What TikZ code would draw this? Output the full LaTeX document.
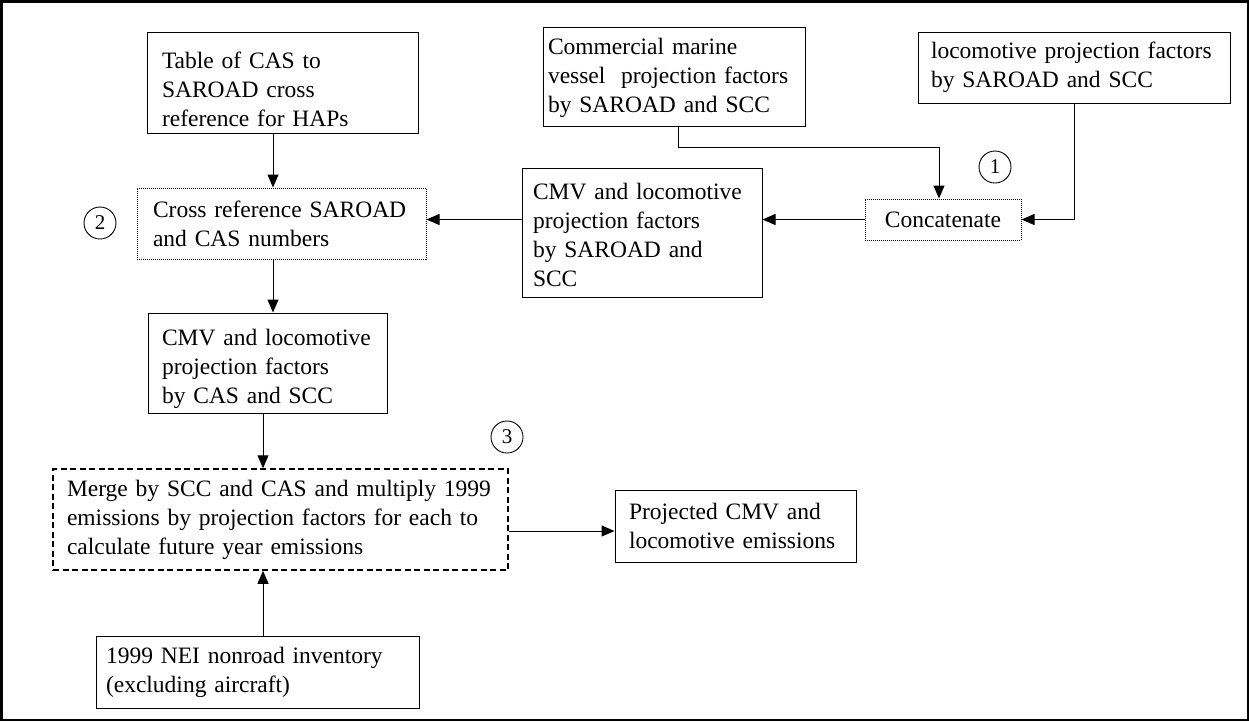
\documentclass[tikz,border=0pt]{standalone}
\usepackage{fontspec}
\setmainfont{Liberation Serif}
\usetikzlibrary{arrows.meta}
\begin{document}
\begin{tikzpicture}[x=1pt,y=-1pt,
  txt/.style={font=\fontsize{23.5}{29}\selectfont},
  box/.style={draw, line width=1pt, txt, align=left, inner ysep=0pt},
  lower/.style={execute at begin node={\rule{0pt}{#1}}},
  dotbox/.style={box, dash pattern=on 1pt off 1pt},
  dashbox/.style={box, line width=1.5pt, dash pattern=on 6pt off 3.5pt},
  num/.style={draw, circle, line width=0.9pt, minimum size=32pt, inner sep=0pt, font=\fontsize{21}{21}\selectfont},
  arr/.style={line width=1pt, -{Triangle[length=13pt,width=11pt]}},
  link/.style={line width=1pt}]
\useasboundingbox (0,0) rectangle (1249,721);
\draw[line width=2.5pt] (1.25,1.25) rectangle (1247.75,719.75);

\node[box, lower=30pt, minimum width=271pt, minimum height=101pt, inner xsep=15pt, text width=241pt] (A) at (282.5,82.5)
  {\mbox{Table of CAS to}\\\mbox{SAROAD cross}\\\mbox{reference for HAPs}};
\node[box, lower=20pt, minimum width=262pt, minimum height=99pt, inner xsep=5pt, text width=252pt] (B) at (674,76.5)
  {\mbox{Commercial marine}\\\mbox{vessel\ \ projection factors}\\\mbox{by SAROAD and SCC}};
\node[box, minimum width=312pt, minimum height=71pt, inner xsep=13pt, text width=286pt] (C) at (1074,67.5)
  {\mbox{locomotive projection factors}\\\mbox{by SAROAD and SCC}};
\node[dotbox, minimum width=289pt, minimum height=71pt, inner xsep=16pt, text width=257pt] (D) at (281.5,223.5)
  {\mbox{Cross reference SAROAD}\\\mbox{and CAS numbers}};
\node[box, lower=22pt, minimum width=240pt, minimum height=129pt, inner xsep=11pt, text width=218pt] (E) at (642,232.5)
  {\mbox{CMV and locomotive}\\\mbox{projection factors}\\\mbox{by SAROAD and}\\\mbox{SCC}};
\node[dotbox, align=center, minimum width=156pt, minimum height=41pt, inner xsep=0pt] (F) at (943,219.5)
  {Concatenate};
\node[box, lower=28pt, minimum width=239pt, minimum height=100pt, inner xsep=14pt, text width=211pt] (G) at (267.5,363)
  {\mbox{CMV and locomotive}\\\mbox{projection factors}\\\mbox{by CAS and SCC}};
\node[dashbox, minimum width=455pt, minimum height=101pt, inner xsep=14pt, text width=427pt] (H) at (280.5,519.5)
  {\mbox{Merge by SCC and CAS and multiply 1999}\\\mbox{emissions by projection factors for each to}\\\mbox{calculate future year emissions}};
\node[box, minimum width=241pt, minimum height=72pt, inner xsep=14pt, text width=213pt] (I) at (735.5,526)
  {\mbox{Projected CMV and}\\\mbox{locomotive emissions}};
\node[box, minimum width=323pt, minimum height=72pt, inner xsep=10pt, text width=303pt] (J) at (257.5,672)
  {\mbox{1999 NEI nonroad inventory}\\\mbox{(excluding aircraft)}};

\node[num] (n1) at (995,167) {1};
\node[num] (n2) at (100,223) {2};
\node[num] (n3) at (507,437) {3};

\coordinate (xa) at (273,0);
\coordinate (xg) at (263,0);
\coordinate (xb) at (678,147);
\coordinate (xf) at (939,0);
\coordinate (yh) at (0,531);

\draw[arr] (A.south -| xa) -- (D.north -| xa);
\draw[arr] (D.south -| xa) -- (G.north -| xa);
\draw[arr] (G.south -| xg) -- (H.north -| xg);
\draw[arr] (J.north -| xg) -- (H.south -| xg);
\draw[arr] (B.south -| xb) -- (xb) -| (F.north -| xf);
\draw[arr] (C.south) |- (F.east);
\draw[arr] (F.west) -- (E.east |- F.west);
\draw[arr] (E.west |- F.west) -- (D.east |- F.west);
\draw[arr] (H.east |- yh) -- (I.west |- yh);
\end{tikzpicture}
\end{document}
